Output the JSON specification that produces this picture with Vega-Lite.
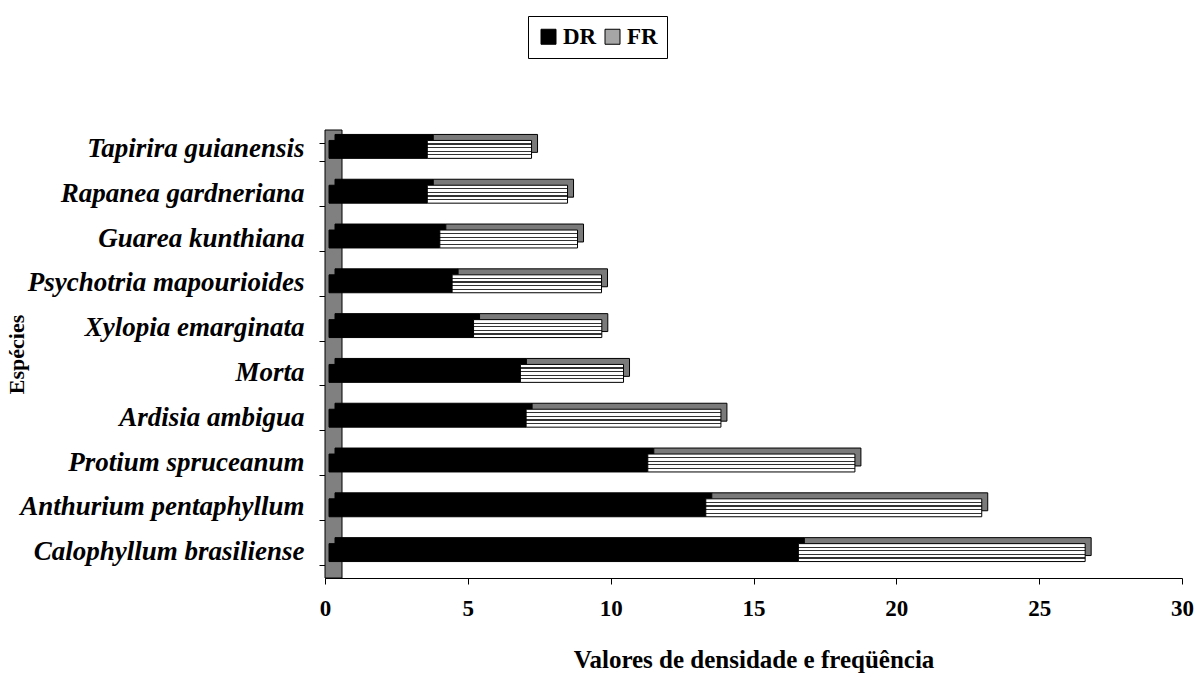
{
  "$schema": "https://vega.github.io/schema/vega-lite/v6.json",
  "width": 857,
  "height": 448,
  "autosize": "none",
  "padding": {"left": 325, "top": 130, "right": 17, "bottom": 95},
  "background": "white",
  "config": {
    "view": {"stroke": null},
    "font": "Liberation Serif",
    "axis": {"grid": false, "domainColor": "black", "tickColor": "black", "labelColor": "black", "titleColor": "black"},
    "axisX": {
      "titleFont": "Liberation Serif", "titleFontSize": 25, "titleFontWeight": "bold", "titlePadding": 27,
      "tickCount": 6,
      "labelFont": "Liberation Serif", "labelFontSize": 23, "labelFontWeight": "bold", "labelPadding": 13, "labelFlush": false, "labelOverlap": false,
      "tickSize": 6
    },
    "axisY": {
      "titleFont": "Liberation Serif", "titleFontSize": 22, "titleFontWeight": "bold", "titleX": -297, "titleY": 224,
      "labelFont": "Liberation Serif", "labelFontSize": 27, "labelFontStyle": "italic", "labelFontWeight": "bold",
      "labelPadding": 15, "labelOffset": -4, "labelLimit": 400,
      "tickBand": "extent", "tickSize": 6
    }
  },
  "datasets": {
    "species": [
      {"species": "Tapirira guianensis", "DR": 3.44, "FR": 3.65},
      {"species": "Rapanea gardneriana", "DR": 3.44, "FR": 4.91},
      {"species": "Guarea kunthiana", "DR": 3.88, "FR": 4.82},
      {"species": "Psychotria mapourioides", "DR": 4.31, "FR": 5.23},
      {"species": "Xylopia emarginata", "DR": 5.06, "FR": 4.49},
      {"species": "Morta", "DR": 6.7, "FR": 3.61},
      {"species": "Ardisia ambigua", "DR": 6.9, "FR": 6.82},
      {"species": "Protium spruceanum", "DR": 11.16, "FR": 7.25},
      {"species": "Anthurium pentaphyllum", "DR": 13.19, "FR": 9.66},
      {"species": "Calophyllum brasiliense", "DR": 16.43, "FR": 10.04}
    ],
    "wall": [{"w": 0}]
  },
  "layer": [
    {
      "data": {"name": "wall"},
      "mark": {"type": "rect", "fill": "#808080", "stroke": "black", "strokeWidth": 1, "x2Offset": 17},
      "encoding": {
        "x": {"field": "w", "type": "quantitative", "scale": {"domain": [0, 30], "nice": false}, "title": "Valores de densidade e freqüência"},
        "x2": {"field": "w"}
      }
    },
    {
      "data": {"name": "species"},
      "transform": [{"fold": ["DR", "FR"], "as": ["key", "value"]}],
      "mark": {"type": "bar", "xOffset": 10, "x2Offset": 10, "yOffset": -9, "y2Offset": -9, "stroke": "black", "strokeWidth": 1},
      "encoding": {
        "y": {"field": "species", "type": "nominal", "title": "Espécies", "sort": ["Tapirira guianensis", "Rapanea gardneriana", "Guarea kunthiana", "Psychotria mapourioides", "Xylopia emarginata", "Morta", "Ardisia ambigua", "Protium spruceanum", "Anthurium pentaphyllum", "Calophyllum brasiliense"], "scale": {"paddingInner": 0.6, "paddingOuter": 0.3}},
        "x": {"field": "value", "type": "quantitative", "stack": "zero", "scale": {"domain": [0, 30], "nice": false}, "title": "Valores de densidade e freqüência"},
        "order": {"field": "key", "sort": "ascending"},
        "fill": {"condition": {"test": "datum.key === 'DR'", "value": "#000000"}, "value": "#7a7a7a"}
      }
    },
    {
      "data": {"name": "species"},
      "transform": [{"fold": ["DR", "FR"], "as": ["key", "value"]}],
      "mark": {"type": "bar", "xOffset": 4, "x2Offset": 4, "yOffset": -3, "y2Offset": -3, "stroke": "black", "strokeWidth": 1},
      "encoding": {
        "y": {"field": "species", "type": "nominal", "title": "Espécies", "sort": ["Tapirira guianensis", "Rapanea gardneriana", "Guarea kunthiana", "Psychotria mapourioides", "Xylopia emarginata", "Morta", "Ardisia ambigua", "Protium spruceanum", "Anthurium pentaphyllum", "Calophyllum brasiliense"], "scale": {"paddingInner": 0.6, "paddingOuter": 0.3}},
        "x": {"field": "value", "type": "quantitative", "stack": "zero", "scale": {"domain": [0, 30], "nice": false}, "title": "Valores de densidade e freqüência"},
        "order": {"field": "key", "sort": "ascending"},
        "fill": {
          "condition": {"test": "datum.key === 'FR'", "value": {"gradient": "linear", "x1": 0, "y1": 0, "x2": 0, "y2": 1, "stops": [
            {"offset": 0, "color": "#ffffff"}, {"offset": 0.165, "color": "#ffffff"}, {"offset": 0.165, "color": "#333333"}, {"offset": 0.235, "color": "#333333"}, {"offset": 0.235, "color": "#ffffff"},
            {"offset": 0.365, "color": "#ffffff"}, {"offset": 0.365, "color": "#333333"}, {"offset": 0.435, "color": "#333333"}, {"offset": 0.435, "color": "#ffffff"},
            {"offset": 0.565, "color": "#ffffff"}, {"offset": 0.565, "color": "#333333"}, {"offset": 0.635, "color": "#333333"}, {"offset": 0.635, "color": "#ffffff"},
            {"offset": 0.765, "color": "#ffffff"}, {"offset": 0.765, "color": "#333333"}, {"offset": 0.835, "color": "#333333"}, {"offset": 0.835, "color": "#ffffff"}, {"offset": 1, "color": "#ffffff"}
          ]}},
          "field": "key", "type": "nominal",
          "scale": {"domain": ["DR", "FR"], "range": ["#000000", "#a6a6a6"]},
          "legend": {
            "title": null, "orient": "none", "legendX": 203, "legendY": -114, "direction": "horizontal",
            "strokeColor": "black", "padding": 9, "symbolType": "square", "symbolSize": 225,
            "symbolStrokeColor": "black", "symbolStrokeWidth": 1, "symbolOpacity": 1,
            "labelFont": "Liberation Serif", "labelFontSize": 23, "labelFontWeight": "bold", "labelColor": "black",
            "columnPadding": 4, "labelOffset": 3
          }
        }
      }
    }
  ]
}
